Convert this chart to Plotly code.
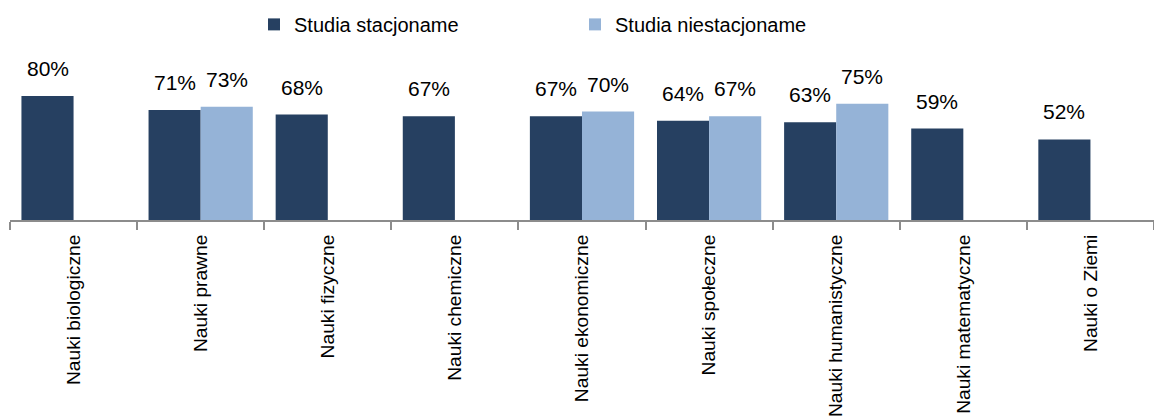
import plotly.graph_objects as go

categories = ["Nauki biologiczne", "Nauki prawne", "Nauki fizyczne", "Nauki chemiczne",
              "Nauki ekonomiczne", "Nauki społeczne", "Nauki humanistyczne",
              "Nauki matematyczne", "Nauki o Ziemi"]
stacjonarne = [80, 71, 68, 67, 67, 64, 63, 59, 52]
niestacjonarne = [None, 73, None, None, 70, 67, 75, None, None]
series_names = ["Studia stacjoname", "Studia niestacjoname"]
colors = ["#264061", "#95B3D7"]

BARGAP = 0.18
FONT = "Liberation Sans, Arial, sans-serif"
label_font = dict(family=FONT, size=21, color="#000000")

fig = go.Figure()
for name, vals, col in zip(series_names, [stacjonarne, niestacjonarne], colors):
    fig.add_trace(go.Bar(x=categories, y=vals, name=name, marker_color=col,
                         marker_line_width=0))

# data labels above bars
half = (1 - BARGAP) / 4
for offs, vals in [(-half, stacjonarne), (half, niestacjonarne)]:
    for i, v in enumerate(vals):
        if v is None:
            continue
        fig.add_annotation(x=i + offs, y=v, xref="x", yref="y", text=f"{v}%",
                           showarrow=False, yanchor="bottom", yshift=14,
                           font=label_font)

fig.update_layout(
    width=1154, height=416,
    margin=dict(l=10, r=0, t=65, b=196, autoexpand=False),
    paper_bgcolor="white", plot_bgcolor="white",
    barmode="group", bargap=BARGAP, bargroupgap=0,
    showlegend=True,
    legend=dict(orientation="h", x=0.2133, xanchor="left", y=1.262, yanchor="middle",
                entrywidth=276, entrywidthmode="pixels",
                font=dict(family=FONT, size=20, color="#000000"),
                bgcolor="rgba(0,0,0,0)", borderwidth=0),
    xaxis=dict(type="category", showline=True, linecolor="#8C8C8C", linewidth=2,
               ticks="outside", tickson="boundaries", ticklen=8, tickwidth=2, tickcolor="#8C8C8C",
               tickangle=-90, showgrid=False, automargin=False, ticklabelstandoff=5,
               tickfont=dict(family=FONT, size=19.2, color="#000000")),
    yaxis=dict(range=[0, 100], visible=False, showgrid=False, zeroline=False, automargin=False),
)

fig.write_html("out.html", config={"displayModeBar": False},
               post_script="document.body.style.margin='0';document.body.style.overflow='hidden';")
